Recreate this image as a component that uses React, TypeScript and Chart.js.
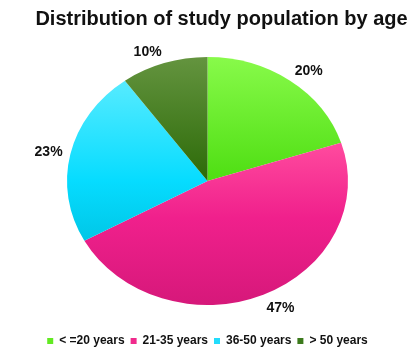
import React, { useEffect, useRef } from "react";
import { Chart, registerables } from "chart.js";

Chart.register(...registerables);

const categories = ["< =20 years", "21-35 years", "36-50 years", "> 50 years"];
const values = [20, 47, 23, 10];
const titleText = "Distribution of study population by age";

const FONT = '"Liberation Sans", Arial, Helvetica, sans-serif';
const legendColors = ["#62ea22", "#f02a8c", "#22dcfc", "#3c7a1c"];
const gradientStops: [number, string][][] = [
  [[0, "#88fa4a"], [0.5, "#4ede12"], [1, "#36c400"]],
  [[0, "#ff70b4"], [0.35, "#ff4a9e"], [0.65, "#f0208c"], [1, "#d6187a"]],
  [[0, "#66f0ff"], [0.12, "#52eaff"], [0.5, "#06dcff"], [0.75, "#00c6e6"], [1, "#00b4d4"]],
  [[0, "#64943f"], [0.5, "#2c6a08"], [1, "#1e5400"]],
];

const RADIUS = 140.5;
const Y_SCALE = 124 / 140.5;

const ellipsePlugin = {
  id: "ellipse",
  beforeDatasetsDraw(chart: any) {
    const arc = chart.getDatasetMeta(0).data[0];
    const ctx = chart.ctx;
    ctx.save();
    ctx.translate(arc.x, arc.y);
    ctx.scale(1, Y_SCALE);
    ctx.translate(-arc.x, -arc.y);
  },
  afterDatasetsDraw(chart: any) {
    chart.ctx.restore();
  },
};

const labelPlugin = {
  id: "sliceLabels",
  afterDraw(chart: any) {
    const ctx = chart.ctx;
    const meta = chart.getDatasetMeta(0);
    ctx.save();
    ctx.font = `bold 14px ${FONT}`;
    ctx.fillStyle = "#111";
    ctx.textAlign = "center";
    ctx.textBaseline = "middle";
    meta.data.forEach((arc: any, i: number) => {
      const a = (arc.startAngle + arc.endAngle) / 2;
      const dx = Math.cos(a);
      const dy = Math.sin(a);
      const ex = arc.x + dx * arc.outerRadius;
      const ey = arc.y + dy * arc.outerRadius * Y_SCALE;
      const lx = ex + dx * 8 + Math.sign(dx) * 14;
      const ly = ey + dy * 13 + 1;
      ctx.fillText(`${values[i]}%`, lx, ly);
    });
    ctx.restore();
  },
};

const titlePlugin = {
  id: "customTitle",
  afterDraw(chart: any) {
    const ctx = chart.ctx;
    ctx.save();
    ctx.font = `bold 20px ${FONT}`;
    ctx.fillStyle = "#111";
    ctx.textAlign = "center";
    ctx.textBaseline = "alphabetic";
    ctx.fillText(titleText, 221.5, 24.5);
    ctx.restore();
  },
};

export default function App() {
  const ref = useRef<HTMLCanvasElement | null>(null);

  useEffect(() => {
    if (!ref.current) return;
    const chart = new Chart(ref.current, {
      type: "pie",
      data: {
        labels: categories,
        datasets: [
          {
            data: values,
            borderWidth: 0,
            radius: RADIUS,
            backgroundColor: (c: any) => {
              const area = c.chart.chartArea;
              if (!area) return legendColors[c.dataIndex];
              const cy = (area.top + area.bottom) / 2;
              const g = c.chart.ctx.createLinearGradient(0, cy - RADIUS, 0, cy + RADIUS);
              (gradientStops[c.dataIndex] || []).forEach(([o, col]) => g.addColorStop(o, col));
              return g;
            },
          } as any,
        ],
      },
      options: {
        animation: false,
        responsive: true,
        maintainAspectRatio: false,
        layout: { padding: { top: 33, right: 5, bottom: -2, left: 0 } },
        plugins: {
          title: { display: false },
          tooltip: { enabled: false },
          legend: {
            position: "bottom",
            labels: {
              boxWidth: 6,
              boxHeight: 6,
              padding: 6,
              color: "#111",
              font: { family: FONT, size: 12, weight: "bold" },
              generateLabels: () =>
                categories.map((t, i) => ({
                  text: t,
                  fillStyle: legendColors[i],
                  strokeStyle: legendColors[i],
                  lineWidth: 0,
                  hidden: false,
                  index: i,
                  fontColor: "#111",
                })),
            },
          },
        },
      } as any,
      plugins: [ellipsePlugin, labelPlugin, titlePlugin],
    });
    return () => chart.destroy();
  }, []);

  return (
    <div style={{ position: "fixed", left: 0, top: 0, width: 420, height: 355, background: "#fff" }}>
      <canvas ref={ref} />
    </div>
  );
}
